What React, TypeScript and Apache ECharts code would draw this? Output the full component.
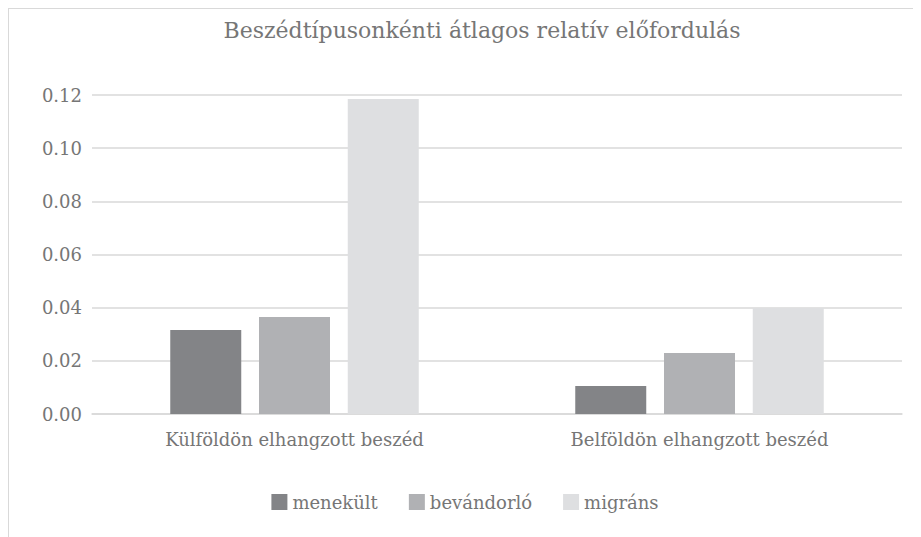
import React, { useEffect, useRef } from "react";
import * as echarts from "echarts";

const titleText = "Beszédtípusonkénti átlagos relatív előfordulás";
const categories = ["Külföldön elhangzott beszéd", "Belföldön elhangzott beszéd"];
const seriesNames = ["menekült", "bevándorló", "migráns"];
const menekult = [0.0316, 0.0105];
const bevandorlo = [0.0365, 0.0229];
const migrans = [0.1185, 0.0399];
const colors = ["#838487", "#b0b1b4", "#dedfe1"];

const FONT = "'DejaVu Serif', serif";
const TEXT = "#767676";

export default function App() {
  const ref = useRef<HTMLDivElement>(null);
  useEffect(() => {
    if (!ref.current) return;
    const chart = echarts.init(ref.current, undefined, { renderer: "svg" });
    const values = [menekult, bevandorlo, migrans];
    chart.setOption({
      animation: false,
      textStyle: { fontFamily: FONT, color: TEXT },
      title: {
        text: titleText,
        left: 468,
        top: 5,
        textAlign: "center",
        textStyle: { fontFamily: FONT, color: TEXT, fontSize: 22, fontWeight: "normal" },
      },
      legend: {
        top: 479,
        left: "center",
        itemWidth: 16,
        itemHeight: 16,
        itemGap: 31,
        itemStyle: { borderWidth: 0 },
        icon: "rect",
        textStyle: { fontFamily: FONT, color: TEXT, fontSize: 18 },
        data: seriesNames,
      },
      grid: { left: 83, right: 19, top: 86, bottom: 123, containLabel: false },
      xAxis: {
        type: "category",
        data: categories,
        axisLine: { lineStyle: { color: "#d9d9d9", width: 1.5 } },
        axisTick: { show: false },
        axisLabel: { color: TEXT, fontFamily: FONT, fontSize: 18, margin: 16 },
      },
      yAxis: {
        type: "value",
        min: 0,
        max: 0.12,
        interval: 0.02,
        axisLine: { show: false },
        axisTick: { show: false },
        splitLine: { lineStyle: { color: "#d9d9d9", width: 1.5 } },
        axisLabel: {
          color: TEXT,
          fontFamily: FONT,
          fontSize: 18,
          margin: 10,
          formatter: (v: number) => v.toFixed(2),
        },
      },
      series: seriesNames.map((name, i) => ({
        name,
        type: "bar",
        data: values[i],
        barWidth: 71,
        barGap: "25%",
        itemStyle: { color: colors[i] },
      })),
    });
    return () => chart.dispose();
  }, []);
  return (
    <div
      ref={ref}
      style={{
        width: 912,
        height: 528,
        borderTop: "1px solid #d9d9d9",
        borderLeft: "1px solid #d9d9d9",
      }}
    />
  );
}
